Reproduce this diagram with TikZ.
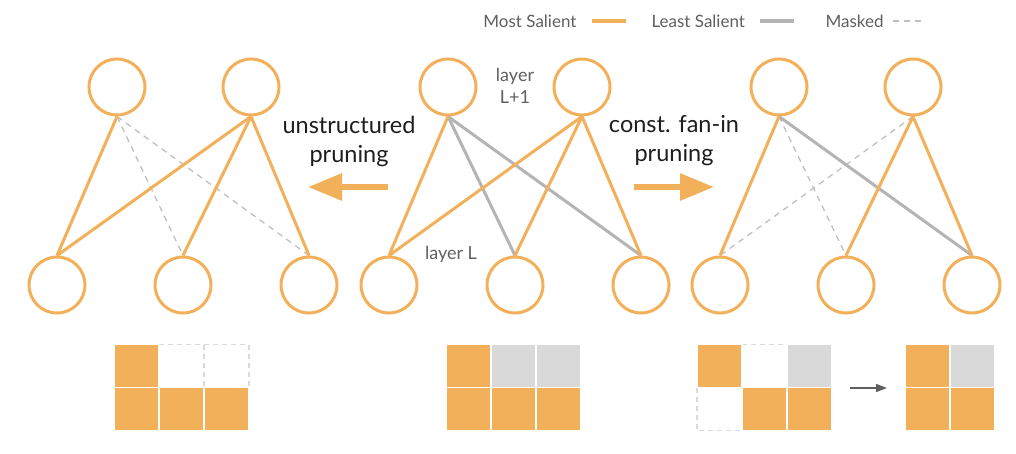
\documentclass[tikz,border=0pt]{standalone}
\usepackage{fontspec}
\setmainfont{Lato}
\usetikzlibrary{arrows.meta}
\definecolor{sal}{RGB}{242,176,90}
\definecolor{least}{RGB}{180,180,180}
\definecolor{mask}{RGB}{192,192,192}
\definecolor{cellgray}{RGB}{217,217,217}
\definecolor{cellmask}{RGB}{218,218,218}
\definecolor{txt}{RGB}{95,95,95}
\definecolor{ink}{RGB}{30,30,30}
\begin{document}
\begin{tikzpicture}[x=1pt, y=-1pt,
    neuron/.style = {draw=sal, circle, line width=3pt, inner sep=0pt, minimum size=56pt},
    most/.style = {draw=sal, line width=3pt},
    least/.style = {draw=least, line width=3pt},
    masked/.style = {draw=mask, line width=1.3pt, dash pattern=on 6pt off 5pt},
    bigarrow/.style = {draw=sal, line width=6pt, -{Triangle[length=34pt, width=26pt]}},
    lbl/.style = {align=center, text=ink, font=\fontsize{23.5}{29}\selectfont},
    layer/.style = {align=center, text=txt, font=\fontsize{18}{22}\selectfont},
    legend/.style = {text=txt, font=\fontsize{17}{20}\selectfont},
    orangecell/.style = {fill=sal, draw=white, line width=1.5pt},
    graycell/.style = {fill=cellgray, draw=white, line width=1.5pt},
    maskcell/.style = {draw=cellmask, line width=1.5pt, dash pattern=on 5pt off 4pt}]
    \useasboundingbox (0,0) rectangle (1016,454);

    % legend
    \node[legend, anchor=east] (most) at (580,21) {Most Salient};
    \node[legend, anchor=west] (least) at (648,21) {Least Salient};
    \node[legend, anchor=west] (masked) at (822,21) {Masked};
    \draw[draw=sal, line width=4pt] (592,21) -- (626,21);
    \draw[draw=least, line width=4pt] (760,21) -- (794,21);
    \draw[masked] (893,21) -- (923,21);

    % unstructured pruning
    \node[neuron] (a1) at (117,87) {};
    \node[neuron] (a2) at (251,87) {};
    \node[neuron] (a3) at (57,285) {};
    \node[neuron] (a4) at (183,285) {};
    \node[neuron] (a5) at (309,285) {};
    \draw[masked] (a1.south) -- (a4.north);
    \draw[masked] (a1.south) -- (a5.north);
    \draw[most] (a1.south) -- (a3.north);
    \draw[most] (a2.south) -- (a3.north);
    \draw[most] (a2.south) -- (a4.north);
    \draw[most] (a2.south) -- (a5.north);

    % dense layer
    \node[neuron] (b1) at (448,87) {};
    \node[neuron] (b2) at (582,87) {};
    \node[neuron] (b3) at (389,285) {};
    \node[neuron] (b4) at (515,285) {};
    \node[neuron] (b5) at (641,285) {};
    \draw[least] (b1.south) -- (b4.north);
    \draw[least] (b1.south) -- (b5.north);
    \draw[most] (b1.south) -- (b3.north);
    \draw[most] (b2.south) -- (b3.north);
    \draw[most] (b2.south) -- (b4.north);
    \draw[most] (b2.south) -- (b5.north);
    \node[layer] (lup) at (515,86) {layer\\L+1};
    \node[layer] (llow) at (451,254) {layer L};

    % const. fan-in pruning
    \node[neuron] (c1) at (779,87) {};
    \node[neuron] (c2) at (913,87) {};
    \node[neuron] (c3) at (720,285) {};
    \node[neuron] (c4) at (846,285) {};
    \node[neuron] (c5) at (972,285) {};
    \draw[masked] (c1.south) -- (c4.north);
    \draw[masked] (c2.south) -- (c3.north);
    \draw[least] (c1.south) -- (c5.north);
    \draw[most] (c1.south) -- (c3.north);
    \draw[most] (c2.south) -- (c4.north);
    \draw[most] (c2.south) -- (c5.north);

    % arrows
    \node[lbl] (ulbl) at (349,141) {unstructured\\pruning};
    \node[lbl] (clbl) at (674,141) {const. fan-in\\pruning};
    \coordinate (ufrom) at (388,187);
    \coordinate (uto) at (308,187);
    \coordinate (cfrom) at (634,187);
    \coordinate (cto) at (714,187);
    \draw[bigarrow] (ufrom) -- (uto);
    \draw[bigarrow] (cfrom) -- (cto);

    % weight matrices
    \draw[maskcell] (159,344.5) rectangle (204,387.5);
    \draw[maskcell] (204,344.5) rectangle (249,387.5);
    \draw[orangecell] (114,344.5) rectangle (159,387.5);
    \draw[orangecell] (114,387.5) rectangle (159,430.5);
    \draw[orangecell] (159,387.5) rectangle (204,430.5);
    \draw[orangecell] (204,387.5) rectangle (249,430.5);

    \draw[orangecell] (446,344.5) rectangle (491,387.5);
    \draw[graycell] (491,344.5) rectangle (536,387.5);
    \draw[graycell] (536,344.5) rectangle (581,387.5);
    \draw[orangecell] (446,387.5) rectangle (491,430.5);
    \draw[orangecell] (491,387.5) rectangle (536,430.5);
    \draw[orangecell] (536,387.5) rectangle (581,430.5);

    \draw[maskcell] (742,344.5) rectangle (787,387.5);
    \draw[maskcell] (697,387.5) rectangle (742,430.5);
    \draw[orangecell] (697,344.5) rectangle (742,387.5);
    \draw[graycell] (787,344.5) rectangle (832,387.5);
    \draw[orangecell] (742,387.5) rectangle (787,430.5);
    \draw[orangecell] (787,387.5) rectangle (832,430.5);

    \coordinate (mfrom) at (850,388);
    \coordinate (mto) at (887,388);
    \draw[draw=txt, line width=1.5pt, -{Triangle[length=11pt, width=8pt]}] (mfrom) -- (mto);

    \draw[orangecell] (905,344.5) rectangle (950,387.5);
    \draw[graycell] (950,344.5) rectangle (995,387.5);
    \draw[orangecell] (905,387.5) rectangle (950,430.5);
    \draw[orangecell] (950,387.5) rectangle (995,430.5);
\end{tikzpicture}
\end{document}
